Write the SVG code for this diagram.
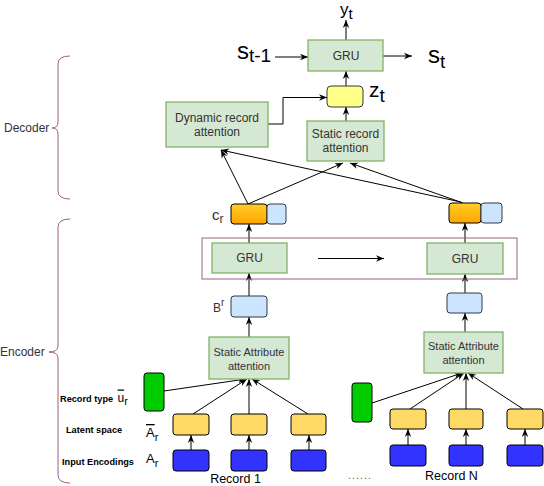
<svg xmlns="http://www.w3.org/2000/svg" width="544" height="486" viewBox="0 0 544 486">
<defs>
<marker id="arr" viewBox="0 0 10 10" refX="10" refY="5" markerWidth="8" markerHeight="8" markerUnits="userSpaceOnUse" orient="auto">
<path d="M0,1 L10,5 L0,9 L3,5 z" fill="#000"/>
</marker>
<linearGradient id="og" x1="0" y1="0" x2="0" y2="1">
<stop offset="0" stop-color="#ffcd28"/>
<stop offset="1" stop-color="#ffa500"/>
</linearGradient>
<style>
.grn{fill:#d5e8d4;stroke:#82b366;stroke-width:1.3}
.lb{fill:#cce5ff;stroke:#36393d;stroke-width:1}
.org{fill:url(#og);stroke:#000;stroke-width:1}
.yel{fill:#ffd966;stroke:#000;stroke-width:1}
.blu{fill:#3333ff;stroke:#000;stroke-width:1}
.rt{fill:#00cc00;stroke:#000;stroke-width:1}
.zb{fill:#ffff88;stroke:#36393d;stroke-width:1}
.t{font-family:"Liberation Sans",Arial,sans-serif;fill:#333;text-anchor:middle}
.m{font-family:"Liberation Sans",Arial,sans-serif;fill:#000}
.lbl{font-family:"Liberation Sans",Arial,sans-serif;font-size:9.2px;font-weight:bold;fill:#000}
.brace{fill:none;stroke:#996185;stroke-width:1}
.c line,.c path{stroke:#000;stroke-width:1;fill:none}
.c .a{marker-end:url(#arr)}
.ov{text-decoration:overline}
</style>
</defs>

<g id="braces">
<path class="brace" d="M70,56 Q58,56 58,64 L58,122 Q58,128 52,128 Q58,128 58,134 L58,191 Q58,199 70,199"/>
<text class="m" x="4" y="132" font-size="12" style="fill:#333">Decoder</text>
<path class="brace" d="M70,219 Q58,219 58,227 L58,346 Q58,352 49,352 Q58,352 58,358 L58,475 Q58,483 70,483"/>
<text class="m" x="0" y="356" font-size="12" style="fill:#333">Encoder</text>
</g>

<g id="row-labels">
<text class="lbl" x="60" y="402">Record type</text>
<text class="lbl" x="66" y="433">Latent space</text>
<text class="lbl" x="62" y="465">Input Encodings</text>
<text class="m" x="117.5" y="401.5" font-size="12"><tspan class="ov">u</tspan><tspan font-size="11" dy="3">r</tspan></text>
<text class="m" x="146" y="437" font-size="13"><tspan class="ov">A</tspan><tspan font-size="11" dy="4">r</tspan></text>
<text class="m" x="146" y="462.5" font-size="13">A<tspan font-size="11" dy="4">r</tspan></text>
</g>

<g id="connectors" class="c">
<line class="a" x1="346" y1="40" x2="346" y2="20"/>
<line class="a" x1="275" y1="57" x2="308" y2="57"/>
<line class="a" x1="383" y1="56" x2="412" y2="56"/>
<line class="a" x1="346" y1="86" x2="346" y2="71"/>
<line class="a" x1="346" y1="121" x2="346" y2="107"/>
<path class="a" d="M268,124 L283,124 L283,97.5 L327,97.5"/>
<line class="a" x1="248" y1="204" x2="221" y2="150"/>
<line class="a" x1="248" y1="204" x2="343" y2="163"/>
<line class="a" x1="461" y1="202" x2="221" y2="150"/>
<line class="a" x1="463" y1="203" x2="350" y2="163"/>
<line class="a" x1="249" y1="243" x2="249" y2="224"/>
<line class="a" x1="465" y1="243" x2="465" y2="223"/>
<line class="a" x1="318" y1="258.5" x2="384" y2="258.5"/>
<line class="a" x1="249" y1="296" x2="249" y2="273"/>
<line class="a" x1="465" y1="293" x2="465" y2="274"/>
<line class="a" x1="249" y1="337" x2="249" y2="317"/>
<line class="a" x1="465" y1="332" x2="465" y2="313"/>
<line class="a" x1="164" y1="391" x2="246" y2="379"/>
<line class="a" x1="193" y1="414" x2="247" y2="379"/>
<line class="a" x1="249" y1="414" x2="249" y2="379"/>
<line class="a" x1="308" y1="414" x2="252" y2="379"/>
<line class="a" x1="191" y1="450" x2="191" y2="435"/>
<line class="a" x1="249" y1="450" x2="249" y2="435"/>
<line class="a" x1="309" y1="450" x2="309" y2="435"/>
<line class="a" x1="372" y1="403" x2="462" y2="373"/>
<line class="a" x1="410" y1="409" x2="464" y2="373"/>
<line class="a" x1="466" y1="409" x2="466" y2="373"/>
<line class="a" x1="523" y1="409" x2="468" y2="373"/>
<line class="a" x1="408" y1="445" x2="408" y2="429"/>
<line class="a" x1="466" y1="445" x2="466" y2="429"/>
<line class="a" x1="525" y1="445" x2="525" y2="429"/>
</g>

<g id="decoder-gru">
<rect class="grn" x="308" y="40" width="75" height="31"/>
<text class="t" x="346" y="60" font-size="12">GRU</text>
</g>
<g id="y-label"><text class="m" x="340" y="15" font-size="17">y<tspan font-size="15" dy="4">t</tspan></text></g>
<g id="s-prev-label"><text class="m" x="237" y="59" font-size="24">s<tspan font-size="19" dy="3">t-1</tspan></text></g>
<g id="s-label"><text class="m" x="428" y="63" font-size="24">s<tspan font-size="19" dy="5">t</tspan></text></g>

<g id="z">
<rect class="zb" x="327" y="86" width="36" height="21" rx="4"/>
<text class="m" x="369" y="97" font-size="21">z<tspan font-size="19" dy="5">t</tspan></text>
</g>

<g id="dynamic-attention">
<rect class="grn" x="166" y="102" width="102" height="45"/>
<text class="t" x="217" y="122" font-size="12">Dynamic record</text>
<text class="t" x="217" y="136" font-size="12">attention</text>
</g>

<g id="static-record-attention">
<rect class="grn" x="307" y="121" width="77" height="40"/>
<text class="t" x="345.5" y="138" font-size="12">Static record</text>
<text class="t" x="345.5" y="152" font-size="12">attention</text>
</g>

<g id="c-1">
<rect class="org" x="231" y="204" width="36" height="20" rx="3"/>
<rect class="lb" x="267" y="204" width="19" height="20" rx="3"/>
<text class="m" x="212" y="220" font-size="15" style="fill:#333">c<tspan font-size="12" dy="3">r</tspan></text>
</g>
<g id="c-N">
<rect class="org" x="449" y="203" width="32" height="20" rx="3"/>
<rect class="lb" x="481" y="203" width="21" height="20" rx="3"/>
</g>

<g id="encoder-gru">
<rect x="202" y="238" width="315" height="41" fill="none" stroke="#996185" stroke-width="1"/>
<rect class="grn" x="212" y="243" width="75" height="30"/>
<text class="t" x="249.5" y="262" font-size="12">GRU</text>
<rect class="grn" x="427" y="243" width="76" height="31"/>
<text class="t" x="465" y="263" font-size="12">GRU</text>
</g>

<g id="B-1">
<rect class="lb" x="231" y="296" width="36" height="21" rx="3"/>
<text class="m" x="213" y="312" font-size="12" style="fill:#333">B<tspan font-size="10" dy="-6">r</tspan></text>
</g>
<g id="B-N"><rect class="lb" x="447" y="293" width="35" height="20" rx="3"/></g>

<g id="attr-attention-1">
<rect class="grn" x="209" y="337" width="80" height="42"/>
<text class="t" x="249" y="356" font-size="11">Static Attribute</text>
<text class="t" x="249" y="370" font-size="11">attention</text>
</g>
<g id="attr-attention-N">
<rect class="grn" x="424" y="332" width="79" height="41"/>
<text class="t" x="463.5" y="350" font-size="11">Static Attribute</text>
<text class="t" x="463.5" y="364" font-size="11">attention</text>
</g>

<g id="record-1">
<rect class="rt" x="144" y="373" width="20" height="38" rx="3"/>
<rect class="yel" x="173" y="414" width="36" height="21" rx="3"/>
<rect class="yel" x="231" y="414" width="36" height="21" rx="3"/>
<rect class="yel" x="291" y="414" width="35" height="21" rx="3"/>
<rect class="blu" x="173" y="450" width="36" height="21" rx="3"/>
<rect class="blu" x="231" y="450" width="36" height="21" rx="3"/>
<rect class="blu" x="291" y="450" width="35" height="21" rx="3"/>
<text class="t" x="235.5" y="483" font-size="12.5" style="fill:#000">Record 1</text>
</g>

<g id="record-N">
<rect class="rt" x="352" y="383" width="20" height="39" rx="3"/>
<rect class="yel" x="390" y="409" width="36" height="20" rx="3"/>
<rect class="yel" x="449" y="409" width="34" height="20" rx="3"/>
<rect class="yel" x="507" y="409" width="36" height="20" rx="3"/>
<rect class="blu" x="390" y="445" width="36" height="21" rx="3"/>
<rect class="blu" x="449" y="445" width="34" height="21" rx="3"/>
<rect class="blu" x="507" y="445" width="36" height="21" rx="3"/>
<text class="t" x="451.5" y="480" font-size="12.5" style="fill:#000">Record N</text>
</g>

<g id="ellipsis"><text class="m" x="348" y="479" font-size="10" letter-spacing="1.2" style="fill:#555">......</text></g>
</svg>
